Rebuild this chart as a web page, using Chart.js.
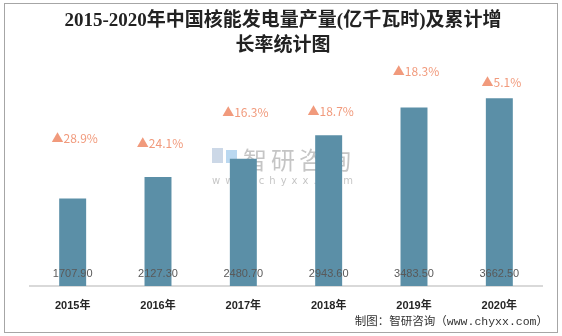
<!DOCTYPE html>
<html>
<head>
<meta charset="utf-8">
<script src="https://cdn.jsdelivr.net/npm/chart.js@4"></script>
<style>
  body { margin: 0; background: #fff; }
  #wrap { width: 562px; height: 336px; }
</style>
</head>
<body>
<div id="wrap"><canvas id="myChart" width="562" height="336"></canvas></div>
<script>
// values
let years = ['2015年', '2016年', '2017年', '2018年', '2019年', '2020年'];
let output = [1707.9, 2127.3, 2480.7, 2943.6, 3483.5, 3662.5];
let growth = ['28.9%', '24.1%', '16.3%', '18.7%', '18.3%', '5.1%'];
// how far (px) each growth label floats above its bar
let growthLift = [60, 34, 46, 24, 36, 16];

let titleLines = ['2015-2020年中国核能发电量产量(亿千瓦时)及累计增', '长率统计图'];
let sourceText = '制图：智研咨询（www.chyxx.com）';

let extras = {
    id: 'extras',
    beforeDatasetsDraw(chart) {
        let c = chart.ctx;
        c.save();
        // watermark
        c.fillStyle = 'rgba(150,150,150,0.55)';
        c.font = '24px "Noto Sans CJK SC"';
        c.textAlign = 'left';
        c.textBaseline = 'middle';
        c.letterSpacing = '4px';
        c.fillText('智研咨询', 243, 160);
        c.font = '10px "DejaVu Sans"';
        c.letterSpacing = '5px';
        c.fillText('www.chyxx.com', 212, 181);
        c.letterSpacing = '0px';
        c.fillStyle = 'rgba(170,190,215,0.6)';
        c.fillRect(212, 148, 11, 15);
        c.fillStyle = 'rgba(140,190,230,0.6)';
        c.fillRect(226, 150, 11, 13);
        c.restore();
    },
    afterDatasetsDraw(chart) {
        let c = chart.ctx;
        let meta = chart.getDatasetMeta(0);
        let y0 = chart.scales.y.getPixelForValue(0);
        c.save();
        c.textAlign = 'center';
        c.textBaseline = 'middle';
        meta.data.forEach((bar, i) => {
            c.fillStyle = '#595959';
            c.font = '11px "Liberation Sans"';
            c.fillText(output[i].toFixed(2), bar.x, y0 - 12);
            c.fillStyle = '#F19A7C';
            c.font = '12px "Noto Sans CJK SC"';
            c.fillText('▲' + growth[i], bar.x + 2, bar.y - growthLift[i]);
        });
        // title
        c.fillStyle = '#222';
        c.font = 'bold 19px "Liberation Serif", "Noto Sans CJK SC"';
        c.fillText(titleLines[0], 283, 21);
        c.fillText(titleLines[1], 283, 46);
        // source
        c.textAlign = 'right';
        c.fillStyle = '#333';
        c.font = '11.5px "Liberation Mono", "Noto Sans CJK SC"';
        c.fillText(sourceText, 548, 322);
        // outer frame
        c.strokeStyle = '#A6A6A6';
        c.lineWidth = 1;
        c.strokeRect(4.5, 3.5, 553, 329);
        c.restore();
    }
};

let ctx = document.getElementById('myChart').getContext('2d');
let chart = new Chart(ctx, {
    type: 'bar',
    data: {
        labels: years,
        datasets: [{
            label: '核能发电量',
            data: output,
            backgroundColor: '#5B8FA7',
            borderWidth: 0,
            categoryPercentage: 1,
            barPercentage: 0.316
        }]
    },
    options: {
        responsive: false,
        animation: false,
        layout: { padding: { top: 81, left: 30, right: 20, bottom: 0 } },
        plugins: {
            legend: { display: false },
            title: { display: false },
            tooltip: { enabled: false }
        },
        scales: {
            x: {
                grid: { display: false, drawTicks: false },
                border: { color: '#D9D9D9', width: 2 },
                ticks: {
                    color: '#262626',
                    font: { size: 11, weight: 'bold', family: '"Liberation Sans", "Noto Sans CJK SC"' },
                    padding: 13
                },
                afterFit(scale) { scale.height = 50; }
            },
            y: {
                display: false,
                min: 0,
                max: 4000
            }
        }
    },
    plugins: [extras]
});
</script>
</body>
</html>
